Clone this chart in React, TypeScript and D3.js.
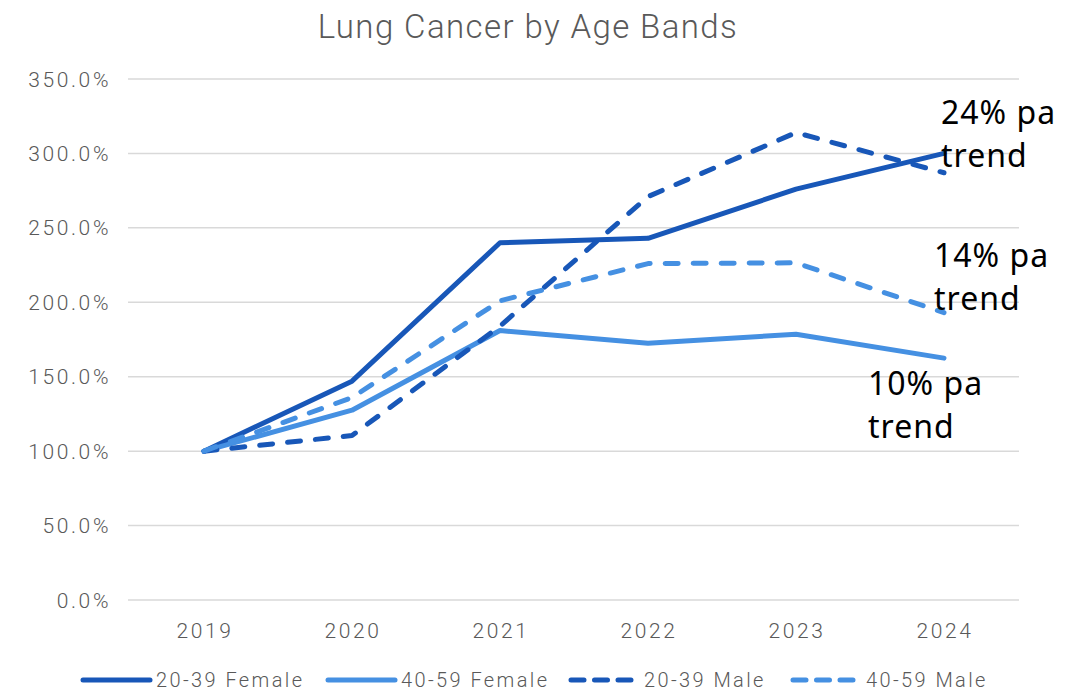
import React from "react";
import * as d3 from "d3";

const years = ["2019", "2020", "2021", "2022", "2023", "2024"];
const female2039 = [100, 147, 240, 243, 276, 300];
const female4059 = [100, 127.5, 181, 172.5, 178.5, 162.5];
const male2039 = [100, 110.5, 184, 271, 314, 287];
const male4059 = [100, 136, 201, 226, 226.5, 193];
const yTicks = [0, 50, 100, 150, 200, 250, 300, 350];

const DARK = "#1857B8";
const LIGHT = "#4590E2";

const seriesList = [
  { name: "20-39 Female", values: female2039, color: DARK, dashed: false },
  { name: "40-59 Female", values: female4059, color: LIGHT, dashed: false },
  { name: "20-39 Male", values: male2039, color: DARK, dashed: true },
  { name: "40-59 Male", values: male4059, color: LIGHT, dashed: true },
];

const annotations = [
  { lines: ["24% pa", "trend"], x: 941, y: 124 },
  { lines: ["14% pa", "trend"], x: 934, y: 267 },
  { lines: ["10% pa", "trend"], x: 868, y: 395 },
];

export default function App() {
  const W = 1091, H = 691;
  const x = d3.scalePoint<string>().domain(years).range([130, 1018]).padding(0.5);
  const y = d3.scaleLinear().domain([0, 350]).range([600, 79]);
  const line = d3
    .line<number>()
    .x((_, i) => x(years[i]) as number)
    .y((d) => y(d));

  const legendX = [80, 325, 568, 790];
  const font = "Roboto, 'Liberation Sans', sans-serif";

  return (
    <svg width={W} height={H} style={{ position: "absolute", left: 0, top: 0, background: "#fff" }}>
      <text x={528} y={38} textAnchor="middle" fontSize={33} fontFamily={font} fontWeight={300} fill="#595959" letterSpacing={1.4}>
        Lung Cancer by Age Bands
      </text>
      {yTicks.map((t) => (
        <g key={t}>
          <line x1={128} x2={1019} y1={y(t)} y2={y(t)} stroke="#d9d9d9" strokeWidth={1.5} />
          <text x={111} y={y(t) + 7.5} textAnchor="end" fontSize={21} fontFamily={font} fontWeight={300} fill="#595959" letterSpacing={2.6}>
            {t.toFixed(1)}%
          </text>
        </g>
      ))}
      {years.map((yr) => (
        <text key={yr} x={(x(yr) as number) + 1} y={638} textAnchor="middle" fontSize={21} fontFamily={font} fontWeight={300} fill="#595959" letterSpacing={2.6}>
          {yr}
        </text>
      ))}
      {seriesList.map((s) => (
        <path
          key={s.name}
          d={line(s.values) || ""}
          fill="none"
          stroke={s.color}
          strokeWidth={5}
          strokeLinecap="round"
          strokeLinejoin="round"
          strokeDasharray={s.dashed ? "13 15" : undefined}
        />
      ))}
      {annotations.map((a, i) => (
        <g key={i}>
          {a.lines.map((l, j) => (
            <text key={j} x={a.x} y={a.y + j * 43} fontSize={32} letterSpacing={1} fontFamily="'Noto Sans', 'Open Sans', sans-serif" fill="#000">
              {l}
            </text>
          ))}
        </g>
      ))}
      {seriesList.map((s, i) => (
        <g key={s.name}>
          <line
            x1={legendX[i] + 3}
            x2={legendX[i] + (s.dashed ? 63 : 70)}
            y1={680}
            y2={680}
            stroke={s.color}
            strokeWidth={5}
            strokeLinecap="round"
            strokeDasharray={s.dashed ? "13 10.5" : undefined}
          />
          <text x={legendX[i] + 76} y={687} fontSize={20} fontFamily={font} fontWeight={300} fill="#595959" letterSpacing={2.4}>
            {s.name}
          </text>
        </g>
      ))}
    </svg>
  );
}
